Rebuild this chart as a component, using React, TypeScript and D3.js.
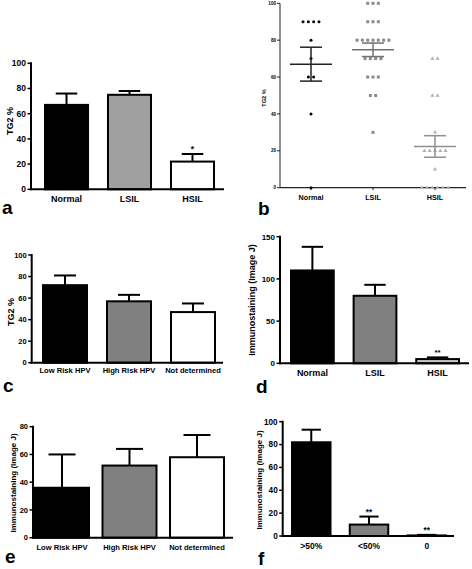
import React from "react";
import * as d3 from "d3";

// ---------- DATA ----------
const lesionCategories = ["Normal", "LSIL", "HSIL"];
const hpvCategories = ["Low Risk HPV", "High Risk HPV", "Not determined"];
const stainCategories = [">50%", "<50%", "0"];

// Panel a: TG2 % by lesion (mean, SEM)
const aMeans = [67, 75, 22];
const aSems = [9, 3, 6];
const aStars = ["", "", "*"];

// Panel b: individual TG2 % values
const bNormal = [90, 90, 90, 90, 80, 70, 60, 60, 40, 0];
const bLsil = [100, 100, 100, 90, 90, 90, 80, 80, 80, 80, 80, 80, 80, 70, 70, 70, 70, 60, 60, 60, 50, 50, 30];
const bHsil = [70, 70, 50, 50, 30, 20, 20, 20, 20, 20, 10, 0, 0, 0, 0, 0, 0];

// Panel c: TG2 % by HPV
const cMeans = [72, 57, 47];
const cSems = [9, 6, 8];
const cStars = ["", "", ""];

// Panel d: Immunostaining by lesion
const dMeans = [110, 80, 5];
const dSems = [28, 13, 2];
const dStars = ["", "", "**"];

// Panel e: Immunostaining by HPV
const eMeans = [36, 52, 58];
const eSems = [24, 12, 16];
const eStars = ["", "", ""];

// Panel f: Immunostaining by staining
const fMeans = [82, 10, 0.5];
const fSems = [11, 7, 0.5];
const fStars = ["", "**", "**"];

const ticksTG2 = [0, 20, 40, 60, 80, 100];
const ticksD = [0, 50, 100, 150];
const ticksE = [0, 20, 40, 60, 80];
const ticksF = [0, 20, 40, 60, 80, 100];

const FONT = "'Liberation Sans', Arial, sans-serif";

type BarCfg = {
  cats: string[]; means: number[]; sems: number[]; stars: string[]; colors: string[];
  yMax: number; ticks: number[]; yTop: number; yBottom: number;
  axisX: number; axisEnd: number; band: [number, number]; padIn: number;
  tickFont: number; catFont: number; catY: number;
  yLabel: string; yLabelX: number; yLabelY: number; yLabelFont: number;
  letter: string; letterX: number; letterY: number;
};

function BarPanel({ c }: { c: BarCfg }) {
  const y = d3.scaleLinear().domain([0, c.yMax]).range([c.yBottom, c.yTop]);
  const x = d3.scaleBand<string>().domain(c.cats).range(c.band).paddingInner(c.padIn).paddingOuter(0);
  const bw = x.bandwidth();
  return (
    <g>
      {c.cats.map((cat, i) => {
        const x0 = x(cat)!;
        const cx = x0 + bw / 2;
        const top = y(c.means[i]);
        const errTop = y(c.means[i] + c.sems[i]);
        return (
          <g key={cat}>
            <line x1={cx} x2={cx} y1={top} y2={errTop} stroke="#000" strokeWidth={2} />
            <line x1={cx - bw / 4} x2={cx + bw / 4} y1={errTop} y2={errTop} stroke="#000" strokeWidth={2} />
            <rect x={x0} y={top} width={bw} height={Math.max(0, c.yBottom - top)} fill={c.colors[i]} stroke="#000" strokeWidth={2} />
            {c.stars[i] && (
              <text x={cx} y={errTop - 2} textAnchor="middle" fontFamily={FONT} fontWeight="bold" fontSize={c.tickFont} fill="#000">{c.stars[i]}</text>
            )}
            <text x={cx} y={c.catY} textAnchor="middle" fontFamily={FONT} fontWeight="bold" fontSize={c.catFont} fill="#000">{cat}</text>
          </g>
        );
      })}
      <line x1={c.axisX} x2={c.axisX} y1={c.yTop - 1} y2={c.yBottom + 1} stroke="#000" strokeWidth={2} />
      <line x1={c.axisX - 1} x2={c.axisEnd} y1={c.yBottom} y2={c.yBottom} stroke="#000" strokeWidth={2} />
      {c.ticks.map((t) => (
        <g key={t}>
          <line x1={c.axisX - 3.5} x2={c.axisX} y1={y(t)} y2={y(t)} stroke="#000" strokeWidth={1.5} />
          <text x={c.axisX - 5} y={y(t)} dy="0.35em" textAnchor="end" fontFamily={FONT} fontWeight="bold" fontSize={c.tickFont} fill="#000">{t}</text>
        </g>
      ))}
      <text transform={`translate(${c.yLabelX},${c.yLabelY}) rotate(-90)`} textAnchor="middle" dy="0.35em" fontFamily={FONT} fontWeight="bold" fontSize={c.yLabelFont} fill="#000">{c.yLabel}</text>
      <text x={c.letterX} y={c.letterY} fontFamily={FONT} fontWeight="bold" fontSize={19} fill="#000">{c.letter}</text>
    </g>
  );
}

function DotPanel() {
  const axisX = 280, axisEnd = 466, yTop = 3.3, yBottom = 187.7;
  const y = d3.scaleLinear().domain([0, 100]).range([yBottom, yTop]);
  const x = d3.scaleBand<string>().domain(lesionCategories).range([axisX, axisEnd]).padding(0);
  const groups = [bNormal, bLsil, bHsil];
  const colors = ["#000", "#8a8a8a", "#b0b0b0"];
  const lineColors = ["#222", "#707070", "#909090"];
  const spacing = 5.3;
  const tri = d3.symbol().type(d3.symbolTriangle).size(7);
  return (
    <g>
      <line x1={axisX} x2={axisX} y1={yTop} y2={yBottom} stroke="#222" strokeWidth={1} />
      <line x1={axisX} x2={axisEnd} y1={yBottom} y2={yBottom} stroke="#222" strokeWidth={1.2} />
      {ticksTG2.map((t) => (
        <g key={t}>
          <line x1={axisX - 3} x2={axisX} y1={y(t)} y2={y(t)} stroke="#222" strokeWidth={1} />
          <text x={axisX - 4} y={y(t)} dy="0.35em" textAnchor="end" fontFamily={FONT} fontWeight="bold" fontSize={4.6} fill="#000">{t}</text>
        </g>
      ))}
      {lesionCategories.map((cat, gi) => {
        const cx = x(cat)! + x.bandwidth() / 2;
        const vals = groups[gi];
        const counts = d3.rollup(vals, (v) => v.length, (v) => v);
        const mean = d3.mean(vals)!;
        const sem = d3.deviation(vals)! / Math.sqrt(vals.length);
        const pts: JSX.Element[] = [];
        counts.forEach((n, v) => {
          for (let k = 0; k < n; k++) {
            const px = cx + (k - (n - 1) / 2) * spacing;
            const py = y(v);
            const key = `${v}-${k}`;
            if (gi === 0) pts.push(<circle key={key} cx={px} cy={py} r={1.5} fill={colors[gi]} />);
            else if (gi === 1) pts.push(<rect key={key} x={px - 1.5} y={py - 1.5} width={3} height={3} fill={colors[gi]} />);
            else pts.push(<path key={key} d={tri()!} transform={`translate(${px},${py})`} fill={colors[gi]} />);
          }
        });
        return (
          <g key={cat}>
            <line x1={cx} x2={cx} y1={yBottom} y2={yBottom + 2.5} stroke="#222" strokeWidth={1} />
            {pts}
            <line x1={cx - 21} x2={cx + 21} y1={y(mean)} y2={y(mean)} stroke={lineColors[gi]} strokeWidth={1.5} />
            <line x1={cx} x2={cx} y1={y(mean - sem)} y2={y(mean + sem)} stroke={lineColors[gi]} strokeWidth={1.5} />
            <line x1={cx - 11} x2={cx + 11} y1={y(mean - sem)} y2={y(mean - sem)} stroke={lineColors[gi]} strokeWidth={1.5} />
            <line x1={cx - 11} x2={cx + 11} y1={y(mean + sem)} y2={y(mean + sem)} stroke={lineColors[gi]} strokeWidth={1.5} />
            <text x={cx} y={200} textAnchor="middle" fontFamily={FONT} fontWeight="bold" fontSize={7.2} fill="#000">{cat}</text>
          </g>
        );
      })}
      <text transform="translate(264.5,98) rotate(-90)" textAnchor="middle" dy="0.35em" fontFamily={FONT} fontWeight="bold" fontSize={5.6} fill="#000">TG2 %</text>
      <text x={258} y={215} fontFamily={FONT} fontWeight="bold" fontSize={19} fill="#000">b</text>
    </g>
  );
}

const panelA: BarCfg = {
  cats: lesionCategories, means: aMeans, sems: aSems, stars: aStars, colors: ["#000", "#a0a0a0", "#fff"],
  yMax: 100, ticks: ticksTG2, yTop: 63.3, yBottom: 189.3, axisX: 31, axisEnd: 224, band: [45, 214], padIn: 0.317,
  tickFont: 8.5, catFont: 9, catY: 201.5, yLabel: "TG2 %", yLabelX: 10, yLabelY: 121, yLabelFont: 9,
  letter: "a", letterX: 2, letterY: 214,
};
const panelC: BarCfg = {
  cats: hpvCategories, means: cMeans, sems: cSems, stars: cStars, colors: ["#000", "#808080", "#fff"],
  yMax: 100, ticks: ticksTG2, yTop: 255, yBottom: 362.7, axisX: 31.7, axisEnd: 223, band: [43, 215], padIn: 0.3125,
  tickFont: 7.5, catFont: 7.6, catY: 373.3, yLabel: "TG2 %", yLabelX: 10.5, yLabelY: 312, yLabelFont: 9,
  letter: "c", letterX: 3, letterY: 392,
};
const panelD: BarCfg = {
  cats: lesionCategories, means: dMeans, sems: dSems, stars: dStars, colors: ["#000", "#808080", "#c8c8c8"],
  yMax: 150, ticks: ticksD, yTop: 236.7, yBottom: 363.3, axisX: 280, axisEnd: 469, band: [291, 459], padIn: 0.317,
  tickFont: 8, catFont: 9, catY: 376, yLabel: "Immunostaining (Image J)", yLabelX: 252, yLabelY: 300, yLabelFont: 9,
  letter: "d", letterX: 256, letterY: 393,
};
const panelE: BarCfg = {
  cats: hpvCategories, means: eMeans, sems: eSems, stars: eStars, colors: ["#000", "#808080", "#fff"],
  yMax: 80, ticks: ticksE, yTop: 426.7, yBottom: 537.7, axisX: 33, axisEnd: 233, band: [35, 224], padIn: 0.2,
  tickFont: 7.5, catFont: 7.6, catY: 550, yLabel: "Immunostaining (Image J)", yLabelX: 13, yLabelY: 483, yLabelFont: 8,
  letter: "e", letterX: 5, letterY: 563,
};
const panelF: BarCfg = {
  cats: stainCategories, means: fMeans, sems: fSems, stars: fStars, colors: ["#000", "#808080", "#c0c0c0"],
  yMax: 100, ticks: ticksF, yTop: 421.7, yBottom: 536, axisX: 282.7, axisEnd: 454, band: [292, 446], padIn: 0.333,
  tickFont: 8.2, catFont: 8.5, catY: 549, yLabel: "Immunostaining (Image J)", yLabelX: 259, yLabelY: 480, yLabelFont: 8,
  letter: "f", letterX: 258, letterY: 565,
};

export default function App() {
  return (
    <svg width={472} height={569} viewBox="0 0 472 569" style={{ position: "absolute", left: 0, top: 0, background: "#fff" }}>
      <rect x={0} y={0} width={472} height={569} fill="#fff" />
      <BarPanel c={panelA} />
      <DotPanel />
      <BarPanel c={panelC} />
      <BarPanel c={panelD} />
      <BarPanel c={panelE} />
      <BarPanel c={panelF} />
    </svg>
  );
}
